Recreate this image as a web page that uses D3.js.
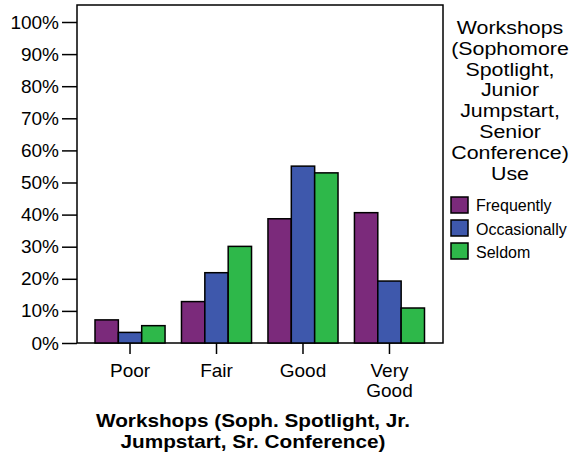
<!DOCTYPE html>
<html><head><meta charset="utf-8">
<script src="https://cdn.jsdelivr.net/npm/d3@7"></script>
<style>body{margin:0;background:#fff}svg{display:block;font-family:"Liberation Sans",Arial,sans-serif}</style>
</head><body><svg id="c" width="582" height="456"></svg>
<script>
const categories = ["Poor", "Fair", "Good", "Very Good"];
const seriesNames = ["Frequently", "Occasionally", "Seldom"];
const frequently = [7.2, 12.9, 38.7, 40.6];
const occasionally = [3.3, 21.9, 55.1, 19.3];
const seldom = [5.4, 30.1, 53.0, 10.9];
const yTicks = [0, 10, 20, 30, 40, 50, 60, 70, 80, 90, 100];
const colors = ["#7B2A7B", "#3E58AC", "#2EB84A"];
const legendTitle = ["Workshops", "(Sophomore", "Spotlight,", "Junior", "Jumpstart,", "Senior", "Conference)", "Use"];
const xTitle = ["Workshops (Soph. Spotlight, Jr.", "Jumpstart, Sr. Conference)"];

const series = [frequently, occasionally, seldom];
const svg = d3.select("#c");
const L = 77, R = 443, T = 5, B = 343;
const y = d3.scaleLinear().domain([0, 100]).range([B, 22]);
const x0 = d3.scaleBand().domain(categories).range([95, 424.5]).paddingInner(0.19).paddingOuter(0);
const x1 = d3.scaleBand().domain(seriesNames).range([0, x0.bandwidth()]);

// frame
svg.append("rect").attr("x", L).attr("y", T).attr("width", R - L).attr("height", B - T)
  .attr("fill", "none").attr("stroke", "#000").attr("stroke-width", 1.5);

// bars
const g = svg.append("g");
categories.forEach((c, i) => {
  seriesNames.forEach((s, j) => {
    g.append("rect")
      .attr("x", x0(c) + x1(s))
      .attr("y", y(series[j][i]))
      .attr("width", x1.bandwidth())
      .attr("height", B - y(series[j][i]))
      .attr("fill", colors[j]).attr("stroke", "#000").attr("stroke-width", 1.5);
  });
});

// y axis
const ya = svg.append("g").attr("transform", `translate(${L},0)`)
  .call(d3.axisLeft(y).tickValues(yTicks).tickSize(15).tickPadding(3).tickFormat(d => d + "%"));
ya.select(".domain").remove();
ya.selectAll("line").attr("stroke", "#000").attr("stroke-width", 1.5);
ya.selectAll("text").attr("font-size", 19).attr("fill", "#000").attr("font-family", "Liberation Sans, Arial, sans-serif");

// x axis
const xa = svg.append("g").attr("transform", `translate(0,${B})`)
  .call(d3.axisBottom(x0).tickSize(11).tickFormat(""));
xa.select(".domain").remove();
xa.selectAll("line").attr("stroke", "#000").attr("stroke-width", 1.5);
xa.selectAll(".tick").each(function(d) {
  const words = d.split(" ");
  const t = d3.select(this).append("text").attr("text-anchor", "middle")
    .attr("font-size", 19).attr("fill", "#000").attr("font-family", "Liberation Sans, Arial, sans-serif");
  words.forEach((w, k) => t.append("tspan").attr("x", 0).attr("y", 34 + k * 20).text(w));
});

// x title
const xtg = svg.append("g").attr("transform", "translate(253,0) scale(1.14,1)");
xTitle.forEach((l, k) => xtg.append("text").attr("text-anchor", "middle").attr("font-size", 18.2)
  .attr("font-weight", "bold").attr("x", 0).attr("y", 427 + k * 21).text(l));

// legend
const ltg = svg.append("g").attr("transform", "translate(510,0) scale(1.2,1)");
legendTitle.forEach((l, k) => ltg.append("text").attr("text-anchor", "middle").attr("font-size", 17.8)
  .attr("x", 0).attr("y", 34 + k * 20.8).text(l));
seriesNames.forEach((s, j) => {
  svg.append("rect").attr("x", 451).attr("y", 197 + j * 23).attr("width", 17).attr("height", 16)
    .attr("fill", colors[j]).attr("stroke", "#000").attr("stroke-width", 1.5);
  svg.append("text").attr("x", 476).attr("y", 211 + j * 23.5).attr("font-size", 16).text(s);
});
</script></body></html>
